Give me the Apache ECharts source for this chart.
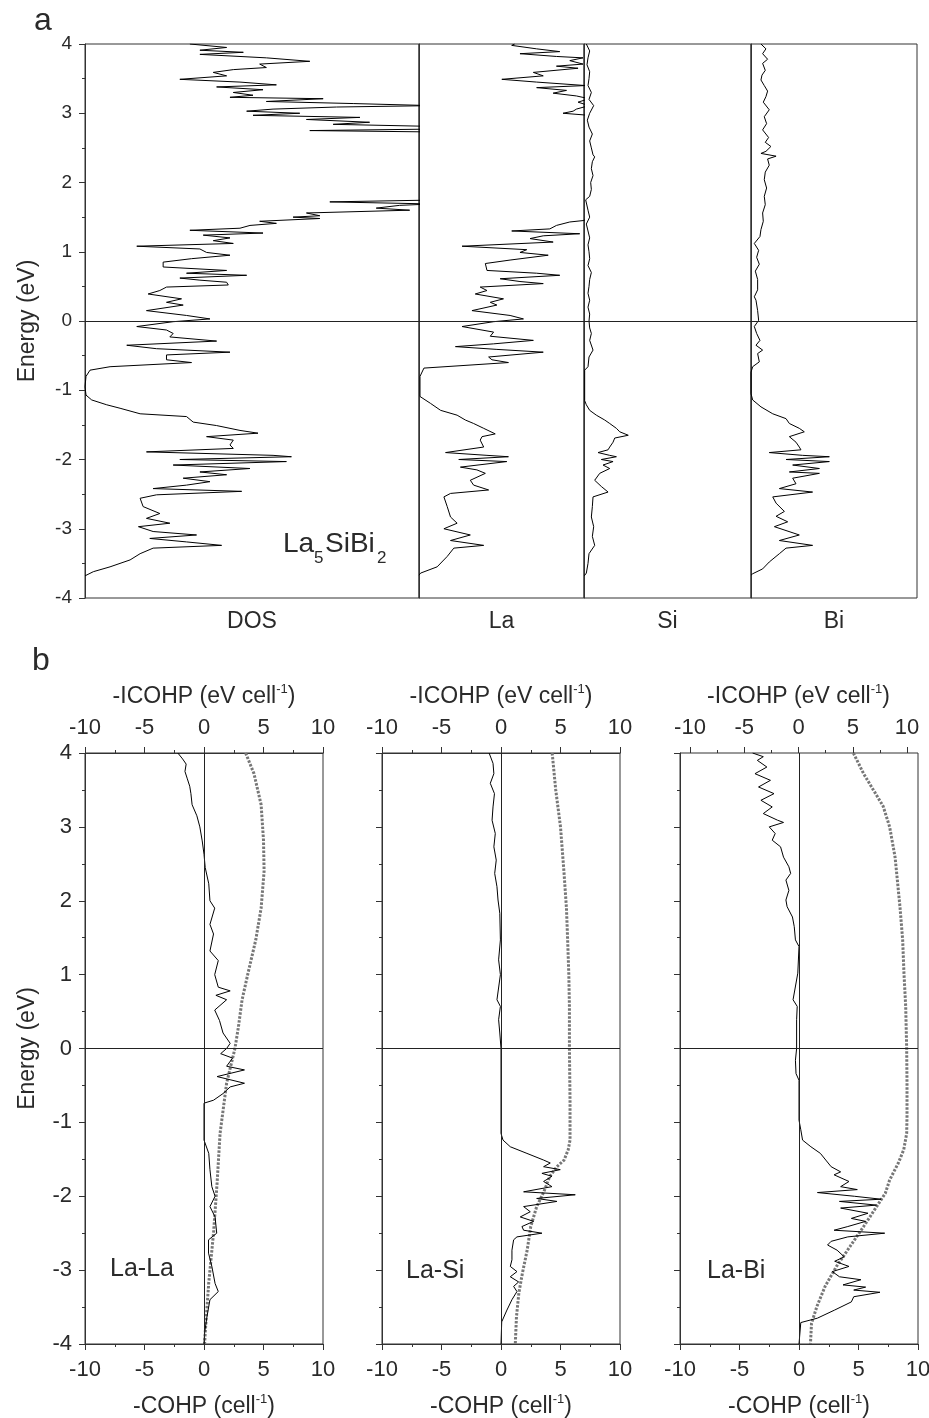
<!DOCTYPE html>
<html><head><meta charset="utf-8">
<script src="https://cdn.jsdelivr.net/npm/echarts@6/dist/echarts.min.js"></script>
<style>html,body{margin:0;padding:0;background:#fff}#c{width:929px;height:1418px}</style>
</head><body><div id="c"></div>
<script>
// ---------- DATA : [energy (eV), value] ----------
// panel a : values are % of each sub-panel width (no scale shown in the original)
const dosTotal = [
[4.00,31.4],[3.95,42.4],[3.91,34.4],[3.88,47.4],[3.85,34.4],[3.80,54.3],[3.75,67.3],[3.71,52.3],[3.66,54.3],[3.63,44.4],[3.59,38.4],[3.54,42.4],[3.49,28.4],[3.45,46.4],[3.41,57.3],[3.38,39.4],[3.34,53.3],[3.30,44.4],[3.26,50.3],[3.23,43.4],[3.21,71.3],[3.17,54.3],[3.14,80.3],[3.11,104],[3.09,75.3],[3.06,56.3],[3.03,48.4],[3.00,64.3],[2.97,50.3],[2.94,82.3],[2.91,66.3],[2.87,85.2],[2.84,74.3],[2.81,104],[2.77,102],[2.75,67.3],[2.73,104],[2.60,135],[2.40,155],[2.20,160],[2.00,150],[1.85,125],[1.75,108],[1.72,73.3],[1.69,104],[1.67,94.2],[1.63,87.2],[1.60,97.2],[1.56,66.3],[1.52,70.3],[1.50,62.3],[1.48,70.3],[1.44,52.3],[1.41,57.3],[1.38,49.4],[1.34,46.4],[1.31,31.4],[1.27,53.3],[1.24,35.4],[1.20,43.4],[1.16,38.4],[1.12,44.4],[1.08,15.5],[1.04,34.4],[0.99,36.4],[0.95,43.4],[0.90,31.9],[0.85,23.4],[0.78,23.4],[0.73,42.4],[0.69,30.4],[0.66,48.4],[0.62,28.4],[0.59,34.4],[0.56,42.4],[0.52,42.9],[0.49,24.4],[0.44,22.4],[0.39,18.9],[0.32,28.9],[0.27,24.4],[0.23,29.4],[0.15,18.4],[0.08,30.4],[0.03,37.4],[-0.01,26.4],[-0.08,15.5],[-0.13,24.4],[-0.18,26.4],[-0.23,25.4],[-0.29,39.4],[-0.35,12.5],[-0.40,21.4],[-0.45,43.4],[-0.49,24.4],[-0.56,24.4],[-0.60,31.9],[-0.66,7.5],[-0.71,1.5],[-0.80,0.3],[-0.95,0],[-1.07,0.3],[-1.14,2.0],[-1.21,6.5],[-1.26,10.5],[-1.34,16.5],[-1.38,30.4],[-1.46,32.4],[-1.51,39.4],[-1.58,46.4],[-1.62,51.8],[-1.67,36.4],[-1.72,44.4],[-1.79,43.4],[-1.84,44.4],[-1.89,18.4],[-1.94,56.3],[-1.96,61.8],[-2.00,28.4],[-2.03,60.3],[-2.08,26.4],[-2.13,49.4],[-2.18,34.4],[-2.22,42.4],[-2.27,29.4],[-2.32,37.4],[-2.37,30.4],[-2.42,20.4],[-2.46,46.9],[-2.51,21.4],[-2.56,16.5],[-2.68,17.4],[-2.78,22.4],[-2.85,18.4],[-2.92,25.4],[-2.97,16.0],[-3.04,20.4],[-3.09,33.4],[-3.14,19.4],[-3.19,30.4],[-3.24,40.9],[-3.28,20.4],[-3.36,16.5],[-3.45,13.5],[-3.55,7.5],[-3.62,2.5],[-3.68,0]
];
const dosLa = [
[4.00,58.0],[3.98,56.2],[3.93,71.3],[3.89,85.3],[3.86,61.2],[3.82,83.3],[3.80,99.4],[3.76,91.4],[3.71,99.4],[3.68,83.3],[3.65,96.4],[3.59,69.3],[3.54,75.3],[3.49,50.2],[3.45,71.3],[3.40,101],[3.37,71.3],[3.33,89.4],[3.29,81.3],[3.25,95.4],[3.21,103],[3.16,96.4],[3.11,103],[3.06,95.4],[3.03,93.4],[3.00,87.3],[2.97,103],[2.80,130],[2.50,160],[2.20,170],[1.90,150],[1.60,120],[1.45,99.4],[1.43,91.4],[1.38,83.3],[1.33,79.3],[1.30,56.2],[1.26,97.4],[1.23,75.3],[1.19,67.3],[1.14,81.3],[1.08,26.1],[1.03,65.3],[0.99,61.2],[0.95,78.3],[0.88,55.2],[0.83,40.2],[0.73,41.2],[0.69,71.3],[0.66,85.3],[0.61,49.2],[0.57,61.2],[0.54,75.3],[0.49,37.1],[0.44,41.2],[0.39,34.1],[0.32,51.2],[0.27,43.2],[0.23,47.2],[0.15,32.1],[0.08,55.2],[0.03,63.3],[-0.01,45.2],[-0.08,26.1],[-0.16,45.2],[-0.22,43.2],[-0.28,69.3],[-0.33,45.2],[-0.37,22.1],[-0.41,47.2],[-0.45,75.3],[-0.52,42.2],[-0.56,44.2],[-0.60,54.2],[-0.68,3.0],[-0.80,0.6],[-1.09,0.6],[-1.19,7.0],[-1.29,13.1],[-1.36,23.1],[-1.43,28.1],[-1.48,33.1],[-1.55,39.2],[-1.63,46.2],[-1.67,38.2],[-1.72,37.1],[-1.82,39.2],[-1.90,16.1],[-1.94,41.2],[-1.96,54.2],[-2.00,24.1],[-2.03,53.2],[-2.11,25.1],[-2.15,35.1],[-2.20,40.2],[-2.30,31.1],[-2.37,33.1],[-2.44,42.2],[-2.49,19.1],[-2.54,15.1],[-2.68,17.1],[-2.83,19.1],[-2.92,23.1],[-3.00,15.1],[-3.09,31.1],[-3.17,19.1],[-3.24,39.2],[-3.28,21.1],[-3.40,17.1],[-3.55,11.0],[-3.64,1.0],[-3.67,0]
];
const dosSi = [
[4.00,1.4],[3.90,3.4],[3.80,2.4],[3.70,1.8],[3.60,3.4],[3.50,3.0],[3.40,2.4],[3.30,4.4],[3.20,3.0],[3.11,5.8],[3.00,3.4],[2.90,2.0],[2.80,3.0],[2.70,5.0],[2.60,3.4],[2.50,4.4],[2.40,5.4],[2.37,6.4],[2.30,5.0],[2.20,4.4],[2.10,5.4],[2.00,4.0],[1.90,4.4],[1.80,3.4],[1.75,1.0],[1.60,2.4],[1.50,3.4],[1.40,1.4],[1.30,2.4],[1.20,3.4],[1.10,2.4],[1.00,3.0],[0.90,3.4],[0.80,2.4],[0.70,4.4],[0.60,3.4],[0.50,3.0],[0.40,2.4],[0.30,3.4],[0.20,2.4],[0.10,3.4],[0.00,3.0],[-0.10,3.4],[-0.18,4.4],[-0.28,3.4],[-0.42,5.4],[-0.52,3.0],[-0.66,2.4],[-0.71,0.4],[-1.15,0.4],[-1.21,1.4],[-1.29,3.4],[-1.36,7.4],[-1.43,12.4],[-1.48,15.4],[-1.55,19.4],[-1.60,21.4],[-1.65,26.5],[-1.69,18.4],[-1.75,17.4],[-1.82,15.4],[-1.86,14.4],[-1.90,8.4],[-1.94,15.4],[-1.96,19.4],[-2.00,10.4],[-2.03,17.4],[-2.08,11.4],[-2.13,15.4],[-2.20,9.4],[-2.30,6.4],[-2.39,10.4],[-2.47,14.4],[-2.54,5.4],[-2.68,5.0],[-2.83,4.4],[-2.97,5.8],[-3.11,5.0],[-3.24,6.4],[-3.36,3.0],[-3.50,2.4],[-3.64,1.4],[-3.68,0.2]
];
const dosBi = [
[4.00,6.0],[3.93,9.0],[3.86,7.0],[3.78,10.0],[3.72,7.0],[3.62,8.6],[3.55,6.6],[3.48,6.0],[3.40,8.0],[3.32,10.0],[3.24,9.0],[3.16,7.4],[3.05,11.0],[2.95,8.0],[2.85,9.4],[2.76,7.0],[2.65,10.6],[2.58,8.6],[2.52,12.0],[2.45,9.0],[2.42,6.0],[2.38,15.1],[2.34,10.0],[2.25,11.0],[2.15,8.6],[2.04,8.0],[1.92,9.4],[1.80,8.0],[1.68,8.6],[1.56,7.0],[1.44,7.4],[1.32,6.0],[1.22,5.4],[1.12,2.0],[1.02,4.6],[0.92,3.4],[0.82,5.0],[0.72,2.6],[0.60,4.0],[0.45,4.0],[0.35,2.0],[0.30,3.0],[0.15,4.0],[0.01,4.6],[-0.08,2.0],[-0.18,3.4],[-0.28,5.4],[-0.35,3.0],[-0.42,7.0],[-0.47,4.0],[-0.59,5.0],[-0.66,1.0],[-0.74,0],[-1.05,0],[-1.14,1.0],[-1.24,6.0],[-1.34,13.1],[-1.41,21.1],[-1.48,23.1],[-1.55,29.1],[-1.60,32.1],[-1.67,23.1],[-1.75,27.1],[-1.82,29.1],[-1.86,30.1],[-1.90,11.0],[-1.94,31.1],[-1.96,47.2],[-2.00,21.1],[-2.03,47.2],[-2.08,25.1],[-2.13,41.2],[-2.18,23.1],[-2.20,41.2],[-2.27,25.1],[-2.35,27.1],[-2.42,17.1],[-2.47,37.1],[-2.54,13.1],[-2.63,15.1],[-2.75,20.1],[-2.82,15.1],[-2.90,22.1],[-2.97,14.1],[-3.09,29.1],[-3.17,17.1],[-3.24,37.1],[-3.28,21.1],[-3.36,17.1],[-3.48,11.0],[-3.58,7.0],[-3.65,1.0],[-3.67,0]
];
// panel b : -COHP (cell^-1) and -ICOHP (eV cell^-1)
const cohpLaLa = [
[4.00,-2.2],[3.92,-1.8],[3.85,-1.5],[3.75,-1.6],[3.65,-1.4],[3.55,-1.2],[3.45,-1.1],[3.30,-1.0],[3.15,-0.6],[3.00,-0.35],[2.81,-0.15],[2.63,0],[2.45,0.1],[2.23,0.4],[2.00,0.5],[1.90,0.9],[1.68,0.5],[1.55,0.8],[1.32,0.5],[1.19,1.2],[1.00,0.9],[0.83,1.2],[0.78,2.2],[0.72,1.0],[0.66,1.9],[0.52,0.9],[0.38,1.3],[0.21,1.6],[0.07,2.2],[0.00,1.9],[-0.07,1.4],[-0.13,2.4],[-0.24,1.9],[-0.29,3.4],[-0.38,1.1],[-0.47,3.4],[-0.52,2.2],[-0.61,1.6],[-0.70,0.8],[-0.74,0],[-1.24,0],[-1.42,0.4],[-1.64,0.5],[-1.87,0.66],[-2.00,0.93],[-2.14,0.5],[-2.28,0.93],[-2.50,1.07],[-2.59,0.38],[-2.77,0.38],[-2.95,0.66],[-3.18,0.93],[-3.29,1.2],[-3.40,0.5],[-3.63,0.25],[-3.85,0.05],[-4.00,0]
];
const icohpLaLa = [
[4.00,3.5],[3.72,4.2],[3.30,4.8],[2.82,5.0],[2.40,5.05],[1.90,4.8],[1.47,4.35],[1.02,3.7],[0.66,3.2],[0.30,2.9],[0.00,2.6],[-0.47,1.9],[-1.15,1.35],[-1.82,1.1],[-2.50,0.8],[-3.17,0.4],[-3.85,0.1],[-4.00,0.05]
];
const cohpLaSi = [
[4.00,-1.0],[3.86,-0.67],[3.72,-0.6],[3.59,-0.9],[3.45,-0.55],[3.27,-0.67],[3.09,-0.75],[2.91,-0.48],[2.73,-0.6],[2.55,-0.4],[2.37,-0.53],[2.19,-0.34],[2.01,-0.25],[1.83,-0.1],[1.47,-0.05],[1.20,-0.2],[1.00,-0.05],[0.66,-0.34],[0.57,-0.05],[0.39,-0.2],[0.21,-0.1],[0.00,0],[-1.15,0],[-1.24,0.17],[-1.33,0.78],[-1.42,2.18],[-1.51,3.58],[-1.55,4.14],[-1.60,3.58],[-1.64,4.98],[-1.69,3.44],[-1.73,4.28],[-1.80,3.58],[-1.87,4.28],[-1.94,1.9],[-1.98,6.24],[-2.03,3.0],[-2.07,4.7],[-2.14,1.9],[-2.21,2.46],[-2.28,1.62],[-2.34,2.74],[-2.41,1.76],[-2.46,1.9],[-2.50,3.44],[-2.55,1.34],[-2.59,1.06],[-2.73,0.92],[-2.86,0.92],[-2.95,0.78],[-3.02,1.34],[-3.09,0.78],[-3.16,1.48],[-3.22,1.06],[-3.29,1.34],[-3.40,0.92],[-3.54,0.5],[-3.70,0.06],[-4.00,0]
];
const icohpLaSi = [
[4.00,4.3],[3.50,4.6],[3.00,5.0],[2.37,5.3],[1.90,5.5],[1.47,5.6],[1.00,5.7],[0.57,5.75],[0.00,5.75],[-0.70,5.8],[-1.24,5.8],[-1.37,5.65],[-1.51,5.3],[-1.60,4.7],[-1.73,4.1],[-1.94,3.6],[-2.14,3.0],[-2.41,2.5],[-2.73,2.2],[-3.04,1.8],[-3.31,1.5],[-3.63,1.3],[-4.00,1.2]
];
const cohpLaBi = [
[4.00,-3.9],[3.95,-3.0],[3.90,-3.5],[3.81,-2.7],[3.72,-3.7],[3.63,-2.4],[3.54,-3.4],[3.45,-2.1],[3.36,-3.2],[3.27,-2.25],[3.18,-3.0],[3.09,-1.8],[3.06,-1.3],[3.00,-2.5],[2.91,-2.0],[2.82,-2.25],[2.73,-1.55],[2.59,-1.3],[2.46,-0.85],[2.37,-0.7],[2.28,-1.1],[2.14,-0.85],[2.01,-1.1],[1.92,-1.0],[1.78,-0.55],[1.65,-0.4],[1.47,-0.3],[1.38,0],[1.02,-0.1],[0.66,-0.5],[0.57,-0.15],[0.39,-0.2],[0.00,-0.2],[-0.16,-0.3],[-0.34,-0.25],[-0.43,0],[-0.97,0],[-1.10,0.15],[-1.24,0.3],[-1.33,1.0],[-1.42,1.8],[-1.51,2.25],[-1.60,2.7],[-1.67,3.5],[-1.71,2.95],[-1.80,4.2],[-1.87,3.5],[-1.91,4.9],[-1.95,1.55],[-2.00,4.65],[-2.04,6.9],[-2.07,3.4],[-2.12,6.5],[-2.16,3.5],[-2.23,5.8],[-2.30,4.4],[-2.34,5.6],[-2.41,4.1],[-2.46,2.95],[-2.50,7.2],[-2.55,4.1],[-2.61,2.7],[-2.66,2.4],[-2.73,3.2],[-2.82,3.8],[-2.88,3.0],[-2.95,4.2],[-3.02,2.8],[-3.09,3.4],[-3.13,5.2],[-3.20,3.7],[-3.23,5.6],[-3.27,4.6],[-3.30,6.8],[-3.36,4.6],[-3.43,4.4],[-3.54,3.0],[-3.65,1.55],[-3.71,0.15],[-4.00,0]
];
const icohpLaBi = [
[4.00,5.06],[3.72,6.0],[3.50,6.9],[3.28,7.8],[3.00,8.4],[2.59,8.9],[2.37,9.05],[1.92,9.35],[1.47,9.6],[1.02,9.72],[0.57,9.88],[0.00,9.97],[-0.47,10.0],[-0.92,10.0],[-1.15,9.97],[-1.37,9.7],[-1.55,9.2],[-1.78,8.4],[-1.96,8.0],[-2.14,7.2],[-2.41,6.0],[-2.68,4.75],[-2.95,3.5],[-3.22,2.45],[-3.49,1.7],[-3.72,1.2],[-4.00,1.1]
];
const dosNames = ['DOS', 'La', 'Si', 'Bi'];
const bondNames = ['La-La', 'La-Si', 'La-Bi'];
const energyTicks = {min: -4, max: 4, interval: 1};
const cohpTicks = {min: -10, max: 10, interval: 5};

// ---------- CHART ----------
const FONT = '"Liberation Sans", Arial, Helvetica, sans-serif';
const TXT = '#2a2a2a';
const LINE = '#333';
const chart = echarts.init(document.getElementById('c'), null, {renderer: 'canvas'});

function grid(l, t, w, h, show) {
  return {left: l, top: t, width: w, height: h, show: show, borderColor: LINE, borderWidth: 1,
          backgroundColor: 'transparent', containLabel: false, outerBoundsMode: 'none'};
}
const grids = [
  grid(85, 44, 334, 554, true), grid(419, 44, 165, 554, true), grid(584, 44, 167, 554, true), grid(751, 44, 166, 554, true),
  grid(85, 753, 238, 591, true), grid(382, 753, 238, 591, true), grid(680, 753, 238, 591, true),
  grid(690, 753, 217, 591, false)
];
const xAxes = [], yAxes = [], series = [];
const tickStyle = {lineStyle: {color: LINE, width: 1}};
const zeroLine = {silent: true, symbol: 'none', label: {show: false}, animation: false,
                  lineStyle: {color: '#222', width: 1, type: 'solid'}};
const cellName = (p) => '{t|' + p + ' (' + (p === '-ICOHP' ? 'eV ' : '') + 'cell}{s|-1}{t|)}';
const nameRich = {t: {fontSize: 23, fontFamily: FONT, color: TXT, lineHeight: 27},
                  s: {fontSize: 13, fontFamily: FONT, color: TXT, verticalAlign: 'top', lineHeight: 14}};

// panel a
const dosSets = [dosTotal, dosLa, dosSi, dosBi];
for (let i = 0; i < 4; i++) {
  xAxes.push({gridIndex: i, type: 'value', min: 0, max: 100, position: 'bottom',
    axisLine: {show: false, onZero: false}, axisTick: {show: false}, axisLabel: {show: false}, splitLine: {show: false},
    name: dosNames[i], nameLocation: 'middle', nameGap: 12,
    nameTextStyle: {fontFamily: FONT, fontSize: 23, color: TXT, verticalAlign: 'top'}});
  const y = {gridIndex: i, type: 'value', min: energyTicks.min, max: energyTicks.max, interval: energyTicks.interval,
    axisLine: {show: true, onZero: false, lineStyle: {color: LINE, width: 1}},
    axisTick: {show: i === 0, length: 6, lineStyle: {color: LINE}},
    minorTick: {show: i === 0, splitNumber: 2, length: 3, lineStyle: {color: LINE}},
    axisLabel: {show: i === 0, fontFamily: FONT, fontSize: 19, color: TXT, margin: 13},
    splitLine: {show: false}, minorSplitLine: {show: false}};
  if (i === 0) {
    y.name = 'Energy (eV)'; y.nameLocation = 'middle'; y.nameGap = 46; y.nameRotate = 90;
    y.nameTextStyle = {fontFamily: FONT, fontSize: 23, color: TXT};
  }
  yAxes.push(y);
  series.push({type: 'line', xAxisIndex: i, yAxisIndex: i, showSymbol: false, symbol: 'none',
    data: dosSets[i].map(p => [p[1], p[0]]), lineStyle: {color: '#000', width: 1}, clip: true,
    silent: true, animation: false,
    markLine: Object.assign({data: [{yAxis: 0}]}, zeroLine)});
}

// panel b
const cohpSets = [cohpLaLa, cohpLaSi, cohpLaBi];
const icohpSets = [icohpLaLa, icohpLaSi, icohpLaBi];
for (let j = 0; j < 3; j++) {
  const g = 4 + j;
  xAxes.push({gridIndex: g, type: 'value', min: cohpTicks.min, max: cohpTicks.max, interval: cohpTicks.interval, position: 'bottom',
    axisLine: {show: true, onZero: false, lineStyle: {color: LINE, width: 1}},
    axisTick: Object.assign({show: true, length: 6}, tickStyle),
    minorTick: Object.assign({show: true, splitNumber: 2, length: 3}, tickStyle),
    axisLabel: {fontFamily: FONT, fontSize: 22, color: TXT, margin: 15},
    splitLine: {show: false}, minorSplitLine: {show: false},
    name: cellName('-COHP'), nameLocation: 'middle', nameGap: 49,
    nameTextStyle: {rich: nameRich, verticalAlign: 'top'}});
  const y = {gridIndex: g, type: 'value', min: energyTicks.min, max: energyTicks.max, interval: energyTicks.interval,
    axisLine: {show: true, onZero: false, lineStyle: {color: LINE, width: 1}},
    axisTick: Object.assign({show: true, length: 6}, tickStyle),
    minorTick: Object.assign({show: true, splitNumber: 2, length: 3}, tickStyle),
    axisLabel: {show: j === 0, fontFamily: FONT, fontSize: 22, color: TXT, margin: 13},
    splitLine: {show: false}, minorSplitLine: {show: false}};
  if (j === 0) {
    y.name = 'Energy (eV)'; y.nameLocation = 'middle'; y.nameGap = 46; y.nameRotate = 90;
    y.nameTextStyle = {fontFamily: FONT, fontSize: 23, color: TXT};
  }
  yAxes.push(y);
}
// top (-ICOHP) axes
const topGrids = [4, 5, 7];
topGrids.forEach(function (g) {
  xAxes.push({gridIndex: g, type: 'value', min: cohpTicks.min, max: cohpTicks.max, interval: cohpTicks.interval, position: 'top',
    axisLine: {show: g !== 7, onZero: false, lineStyle: {color: LINE, width: 1}},
    axisTick: Object.assign({show: true, length: 6}, tickStyle),
    minorTick: Object.assign({show: true, splitNumber: 2, length: 3}, tickStyle),
    axisLabel: {fontFamily: FONT, fontSize: 22, color: TXT, margin: 14},
    splitLine: {show: false}, minorSplitLine: {show: false},
    name: cellName('-ICOHP'), nameLocation: 'middle', nameGap: 43,
    nameTextStyle: {rich: nameRich, verticalAlign: 'bottom'}});
});
yAxes.push({gridIndex: 7, type: 'value', min: energyTicks.min, max: energyTicks.max, show: false,
  axisLine: {onZero: false}});

for (let j = 0; j < 3; j++) {
  series.push({type: 'line', xAxisIndex: 4 + j, yAxisIndex: 4 + j, showSymbol: false, symbol: 'none',
    data: cohpSets[j].map(p => [p[1], p[0]]), lineStyle: {color: '#000', width: 1}, clip: true,
    silent: true, animation: false, z: 3,
    markLine: Object.assign({data: [{yAxis: 0}, {xAxis: 0}]}, zeroLine)});
  series.push({type: 'line', xAxisIndex: 7 + j, yAxisIndex: j < 2 ? 4 + j : 7, showSymbol: false, symbol: 'none',
    data: icohpSets[j].map(p => [p[1], p[0]]), lineStyle: {color: '#777', width: 3, type: [2.5, 1.5]},
    clip: true, silent: true, animation: false, z: 2});
}

const txt = (x, y, s, size, extra) => ({type: 'text', x: x, y: y, silent: true,
  style: Object.assign({text: s, fontSize: size, fontFamily: FONT, fill: TXT, textVerticalAlign: 'middle'}, extra || {})});
const graphics = [
  txt(34, 21, 'a', 32), txt(32, 661, 'b', 32),
  txt(283, 544, 'La', 28), txt(314, 558, '5', 17), txt(325, 544, 'SiBi', 28), txt(377, 558, '2', 17),
  txt(110, 1269, bondNames[0], 25), txt(406, 1271, bondNames[1], 25), txt(707, 1271, bondNames[2], 25)
];

chart.setOption({
  animation: false,
  backgroundColor: '#fff',
  textStyle: {fontFamily: FONT},
  grid: grids, xAxis: xAxes, yAxis: yAxes, series: series, graphic: graphics
});
</script></body></html>
